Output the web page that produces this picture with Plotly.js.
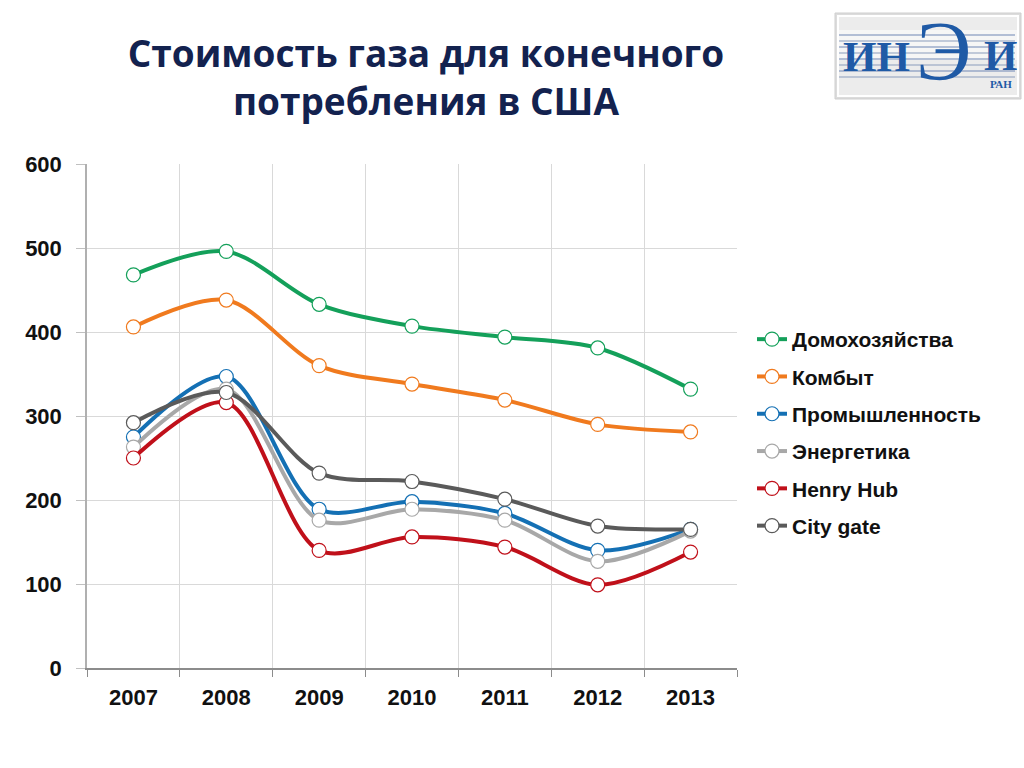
<!DOCTYPE html>
<html>
<head>
<meta charset="utf-8">
<script src="https://cdn.plot.ly/plotly-3.0.1.min.js"></script>
<style>html,body{margin:0;padding:0;background:#fff;}#chart{width:1024px;height:768px;}</style>
</head>
<body>
<div id="chart"></div>
<script>
const years = ["2007", "2008", "2009", "2010", "2011", "2012", "2013"];
const seriesNames = ["Домохозяйства", "Комбыт", "Промышленность", "Энергетика", "Henry Hub", "City gate"];
const households = [468, 496, 433, 407, 394, 381, 332];
const commercial = [406, 438, 360, 338, 319, 290, 281];
const industry = [275, 347, 189, 198, 184, 140, 165];
const power = [263, 332, 176, 189, 176, 127, 163];
const henryHub = [250, 316, 140, 156, 144, 99, 138];
const cityGate = [292, 328, 232, 222, 201, 169, 165];
const yTicks = [0, 100, 200, 300, 400, 500, 600];

const seriesValues = [households, commercial, industry, power, henryHub, cityGate];
const colors = ["#14A05A", "#F07A1E", "#1470B4", "#A8A8A8", "#C0101A", "#5A5A5A"];

const PL = 87, PR = 737, PT = 164, PB = 668;
const px = x => (x - PL) / (PR - PL);
const py = y => (PB - y) / (PB - PT);

const traces = seriesNames.map((name, i) => ({
  type: "scatter",
  mode: "lines+markers",
  name: name,
  x: years,
  y: seriesValues[i],
  legendgroup: "g" + i,
  line: {color: colors[i], width: 4, shape: "spline", smoothing: 0.9},
  marker: {symbol: "circle", size: 14, color: "#ffffff", line: {color: colors[i], width: 1.2}},
  hoverinfo: "x+y+name"
}));

const sans = '"Liberation Sans", Arial, sans-serif';
const serif = '"Liberation Serif", "DejaVu Serif", serif';
const logoBlue = "#1F5AA6";

const shapes = [
  {type: "rect", xref: "paper", yref: "paper", x0: px(835), x1: px(1021), y0: py(99), y1: py(13),
   fillcolor: "#dcdcdc", line: {color: "#cfcfcf", width: 1}, layer: "below"},
  {type: "rect", xref: "paper", yref: "paper", x0: px(838), x1: px(1018), y0: py(96), y1: py(16),
   fillcolor: "#ececec", line: {color: "#ffffff", width: 2}, layer: "below"},
  {type: "rect", xref: "paper", yref: "paper", x0: px(839), x1: px(1017), y0: py(60), y1: py(30),
   fillcolor: "#f6f6f6", line: {width: 0}, layer: "below"}
];
[35, 41, 47, 53, 59, 65, 71, 77].forEach((yy, k) => {
  shapes.push({type: "line", xref: "paper", yref: "paper", x0: px(839), x1: px(1015), y0: py(yy), y1: py(yy),
    line: {color: k % 2 ? "#8a9bbb" : "#6f86b3", width: 1.2}, layer: "below"});
});

const layout = {
  width: 1024, height: 768,
  paper_bgcolor: "#ffffff", plot_bgcolor: "#ffffff",
  margin: {l: PL, r: 1024 - PR, t: PT, b: 768 - PB, pad: 0},
  title: {
    text: "Стоимость газа для конечного<br>потребления в США",
    font: {family: '"Open Sans", "Noto Sans", sans-serif', size: 37, color: "#13224F", weight: 700},
    x: 0.416, xanchor: "center", y: 0.913, yanchor: "middle"
  },
  showlegend: true,
  legend: {
    x: px(752), xanchor: "left", y: py(319), yanchor: "top",
    font: {family: sans, size: 21, color: "#111111", weight: 700},
    tracegroupgap: 7, itemwidth: 30, bgcolor: "rgba(0,0,0,0)"
  },
  xaxis: {
    type: "category",
    tickson: "boundaries",
    showgrid: true, gridcolor: "#d9d9d9", gridwidth: 1,
    showline: true, linecolor: "#8c8c8c", linewidth: 1.5,
    ticks: "outside", ticklen: 7, tickcolor: "#8c8c8c",
    tickfont: {family: sans, size: 22, color: "#111111", weight: 700},
    ticklabelstandoff: 9,
    range: [-0.5, 6.5], zeroline: false, fixedrange: true
  },
  yaxis: {
    range: [0, 600], tickvals: yTicks, ticktext: yTicks.map(String),
    showgrid: true, gridcolor: "#d9d9d9", gridwidth: 1,
    showline: true, linecolor: "#b0b0b0", linewidth: 1.5,
    ticks: "outside", ticklen: 9, tickcolor: "#c0c0c0",
    tickfont: {family: sans, size: 22, color: "#111111", weight: 700},
    zeroline: false, fixedrange: true, ticklabelstandoff: 10
  },
  shapes: shapes,
  annotations: [
    {xref: "paper", yref: "paper", x: px(877), y: py(56), xanchor: "center", yanchor: "middle",
     text: "ИН", showarrow: false, height: 34,
     font: {family: serif, size: 43, color: logoBlue, weight: 700}},
    {xref: "paper", yref: "paper", x: px(943), y: py(52), xanchor: "center", yanchor: "middle",
     text: "Э", showarrow: false,
     font: {family: serif, size: 84, color: logoBlue, weight: 400}},
    {xref: "paper", yref: "paper", x: px(1000), y: py(55), xanchor: "center", yanchor: "middle",
     text: "И", showarrow: false, height: 32,
     font: {family: serif, size: 43, color: logoBlue, weight: 700}},
    {xref: "paper", yref: "paper", x: px(1001), y: py(84), xanchor: "center", yanchor: "middle",
     text: "РАН", showarrow: false, height: 12,
     font: {family: serif, size: 11, color: logoBlue, weight: 700}}
  ]
};

Plotly.newPlot("chart", traces, layout, {displayModeBar: false, responsive: false});
</script>
</body>
</html>
